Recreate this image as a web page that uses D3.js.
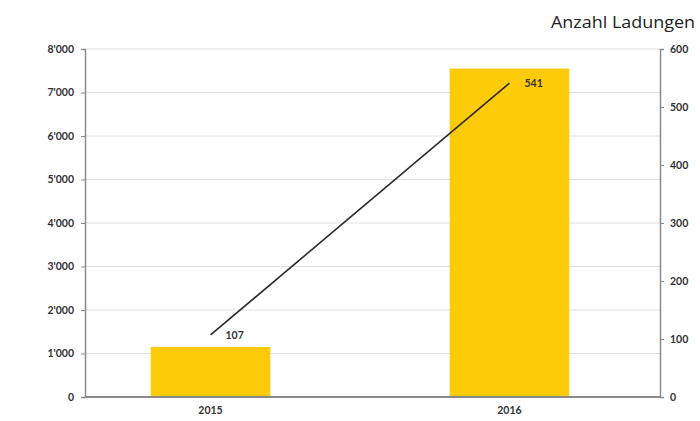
<!DOCTYPE html>
<html>
<head>
<meta charset="utf-8">
<script src="https://cdn.jsdelivr.net/npm/d3@7"></script>
<style>
  html, body { margin: 0; padding: 0; background: #fff; }
  svg { display: block; }
</style>
</head>
<body>
<svg id="chart" width="700" height="421"></svg>
<script>
// Data
const years = ["2015", "2016"];
const volumes = [1150, 7550];          // bars, left axis
const loads = [107, 541];              // line, right axis (Anzahl Ladungen)
const leftTicks = [0, 1000, 2000, 3000, 4000, 5000, 6000, 7000, 8000];
const rightTicks = [0, 100, 200, 300, 400, 500, 600];
const rightTitle = "Anzahl Ladungen";

const svg = d3.select("#chart");
const plotLeft = 85, plotRight = 660, plotTop = 49, plotBottom = 397;
const font = "Lato, 'Open Sans', sans-serif";
const fmt = v => d3.format(",")(v).replace(/,/g, "'");

const x = d3.scaleBand().domain(years).range([plotLeft, 635])
  .paddingInner(0.6).paddingOuter(0.22);
const yL = d3.scaleLinear().domain([0, 8000]).range([plotBottom, plotTop]);
const yR = d3.scaleLinear().domain([0, 600]).range([plotBottom, plotTop]);

// Gridlines
svg.append("g").selectAll("line").data(leftTicks.slice(1)).join("line")
  .attr("x1", plotLeft).attr("x2", plotRight)
  .attr("y1", d => yL(d)).attr("y2", d => yL(d))
  .attr("stroke", "#e2e2e2").attr("stroke-width", 1);

// Bars
svg.append("g").selectAll("rect").data(years).join("rect")
  .attr("x", d => x(d)).attr("width", x.bandwidth())
  .attr("y", (d, i) => yL(volumes[i]))
  .attr("height", (d, i) => plotBottom - yL(volumes[i]))
  .attr("fill", "#fecb0b");

// Left axis
const axL = svg.append("g").attr("transform", `translate(${plotLeft},0)`)
  .call(d3.axisLeft(yL).tickValues(leftTicks).tickFormat(fmt).tickSize(4).tickPadding(7));
axL.select(".domain").attr("stroke", "#8a8a8a").attr("stroke-width", 1.5);
axL.selectAll(".tick line").attr("stroke", "#8a8a8a");
axL.selectAll("text").attr("font-family", font).attr("font-size", 10.5)
  .attr("font-weight", 700).attr("fill", "#333");

// Right axis
const axR = svg.append("g").attr("transform", `translate(${plotRight},0)`)
  .call(d3.axisRight(yR).tickValues(rightTicks).tickSize(4).tickPadding(6));
axR.select(".domain").attr("stroke", "#8a8a8a").attr("stroke-width", 1.5);
axR.selectAll(".tick line").attr("stroke", "#8a8a8a");
axR.selectAll("text").attr("font-family", font).attr("font-size", 10.5)
  .attr("font-weight", 700).attr("fill", "#333");

// Baseline
svg.append("line").attr("x1", plotLeft).attr("x2", plotRight)
  .attr("y1", plotBottom).attr("y2", plotBottom)
  .attr("stroke", "#8a8a8a").attr("stroke-width", 2);

// Category labels
svg.append("g").selectAll("text").data(years).join("text")
  .attr("x", d => x(d) + x.bandwidth() / 2).attr("y", 414)
  .attr("text-anchor", "middle")
  .attr("font-family", font).attr("font-size", 10.5).attr("font-weight", 700)
  .attr("fill", "#333").text(d => d);

// Line
const cx = d => x(d) + x.bandwidth() / 2;
svg.append("path")
  .datum(years)
  .attr("d", d3.line().x(d => cx(d)).y((d, i) => yR(loads[i])))
  .attr("fill", "none").attr("stroke", "#2b2b2b").attr("stroke-width", 1.6);

// Line value labels
svg.append("g").selectAll("text").data(years).join("text")
  .attr("x", d => cx(d) + 15).attr("y", (d, i) => yR(loads[i]) + 4)
  .attr("font-family", font).attr("font-size", 10.5).attr("font-weight", 700)
  .attr("fill", "#333").text((d, i) => loads[i]);

// Right axis title
svg.append("text").attr("x", 551).attr("y", 28)
  .attr("textLength", 144).attr("lengthAdjust", "spacingAndGlyphs")
  .attr("font-family", "'Open Sans', sans-serif").attr("font-size", 17)
  .attr("fill", "#222").text(rightTitle);
</script>
</body>
</html>
